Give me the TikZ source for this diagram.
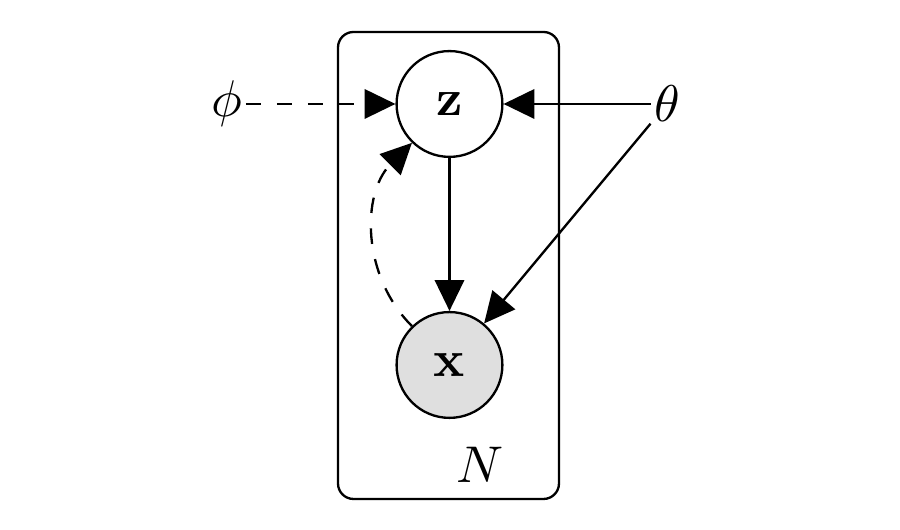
\documentclass[tikz,border=0pt]{standalone}
\usetikzlibrary{arrows.meta}
\begin{document}
\begin{tikzpicture}[x=0.0068cm,y=-0.0068cm,
  latent/.style={circle,draw,line width=0.45pt,minimum size=0.72cm,inner sep=0pt},
  obs/.style={latent,fill=gray!25},
  param/.style={inner sep=0.5pt},
  edge/.style={-{Triangle[length=0.21cm,width=0.2cm]},line width=0.45pt},
  plate/.style={draw,line width=0.45pt,rounded corners=3pt}]
\useasboundingbox (0,0) rectangle (900,530);
\draw[plate] (338,32) rectangle (559,499);
\node (z) [latent] at (449.5,104) {$\mathbf{z}$};
\node (x) [obs] at (449.5,365) {$\mathbf{x}$};
\node (phi) [param] at (227,104) {$\phi$};
\node (theta) [param] at (667,104) {$\theta$};
\node (N) at (480,465) {$N$};
\draw[edge,dashed] (phi) -- (z);
\draw[edge] (theta) -- (z);
\draw[edge] (theta) -- (x);
\draw[edge] (z) -- (x);
\draw[edge,dashed] (x.134) to[out=135,in=225] (z.226);
\end{tikzpicture}
\end{document}
